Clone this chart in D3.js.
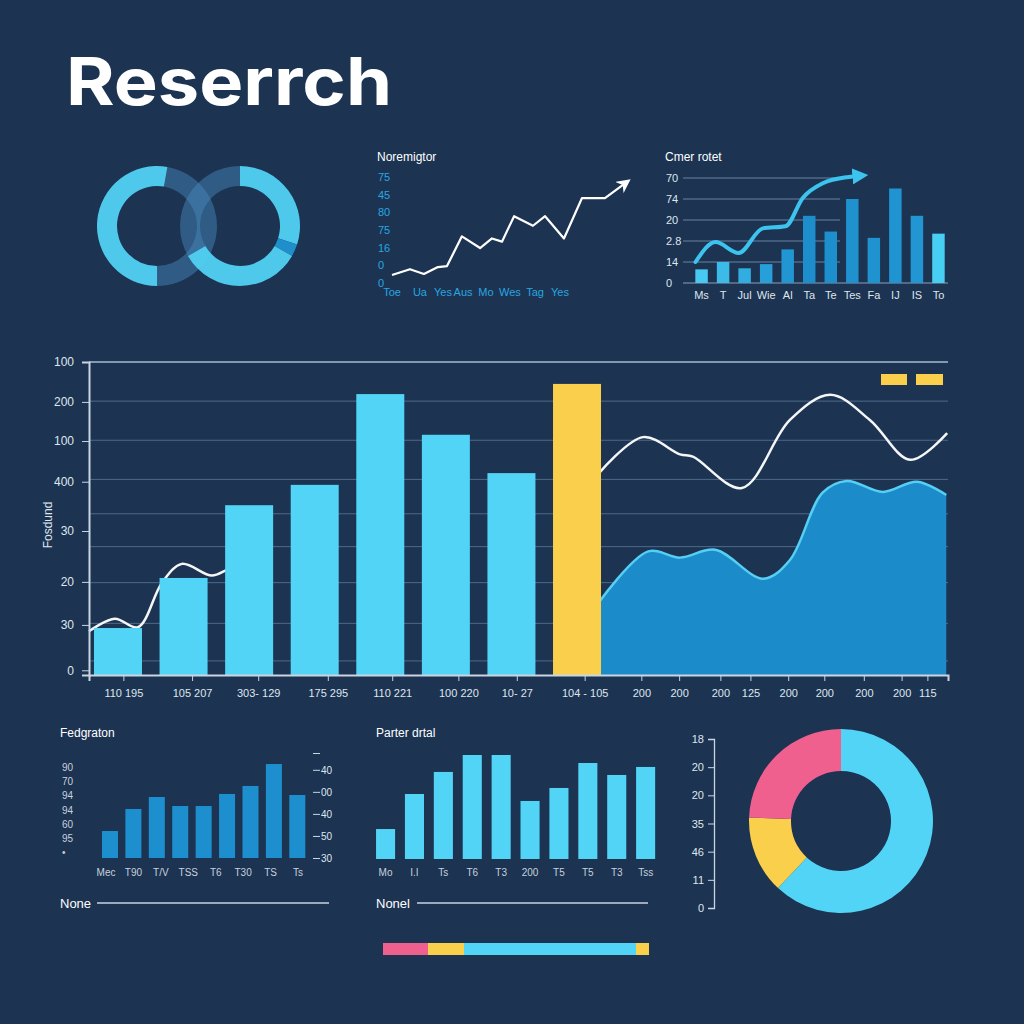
<!DOCTYPE html>
<html>
<head>
<meta charset="utf-8">
<style>
    body { margin: 0; background: #1c3352; }
    svg { display: block; font-family: 'Liberation Sans', Arial, sans-serif; }
    .tick text { fill: #dfe6ee; }
    .tick line { stroke: #c9d5e2; }
</style>
</head>
<body>
<svg width="1024" height="1024"></svg>

<script src="https://d3js.org/d3.v7.min.js"></script>
<script>
    // ---- data ----
    const title = "Reserrch";

    // rings at top left (percent of a full turn)
    const ringLeft = [47.2, 52.8];
    const ringLeftKind = ["dark", "light"];
    const ringRight = [30, 3.3, 33.4, 33.3];
    const ringRightKind = ["light", "accent", "light", "dark"];

    // small line chart "Noremigtor"
    const trendX = [0, 7.7, 13.7, 19.7, 23.6, 30, 37.8, 42.9, 47.2, 52.4, 60.5, 65.7, 73.8, 81.5, 91.4, 100];
    const trendY = [7.5, 13, 8.5, 15, 16, 44, 33, 42, 39, 63, 54, 63, 42, 80, 80, 94];
    const trendTicks = ["0", "0", "16", "75", "80", "45", "75"];
    const trendLabels = ["Toe", "Ua", "Yes", "Aus", "Mo", "Wes", "Tag", "Yes"];
    const trendLabelX = [0, 12, 21.9, 30.5, 40.3, 50.6, 61.4, 72.1];

    // small bar chart "Cmer rotet"
    const colLabels = ["Ms", "T", "Jul", "Wie", "Al", "Ta", "Te", "Tes", "Fa", "IJ", "IS", "To"];
    const colValues = [13, 20, 14, 18, 32, 64, 49, 80, 43, 90, 64, 47];
    const colTicks = ["0", "14", "2.8", "20", "74", "70"];
    const colArrowX = [-0.28, 0.65, 1.72, 2.84, 3.9, 4.7, 5.63, 6.84, 7.3];
    const colArrowY = [20, 39, 28.6, 52, 54, 81, 95, 101, 102];

    // main chart
    const mainBars = [60, 124, 217, 243, 359, 307, 258, 372];
    const mainHighlight = 7;
    const lineAX = [0, 3.0, 5.7, 8.5, 10.8, 14.3, 16.2, 17.6];
    const lineAY = [56, 72, 61, 118, 142, 127, 135, 139];
    const lineBX = [59.3, 64.5, 68.8, 70.3, 76.0, 81.6, 86.3, 90.9, 95.6, 99.9];
    const lineBY = [257, 304, 282, 279, 239, 326, 358, 326, 275, 309];
    const areaX = [59.3, 65.1, 68.8, 72.9, 78.5, 81.6, 85.4, 88.2, 92.4, 96.4, 99.8];
    const areaY = [92, 158, 150, 160, 123, 147, 233, 248, 234, 247, 230];
    const mainGrid = [18, 66, 118, 164, 206, 250, 300, 350, 400];
    const mainTickVals = [6, 64, 119, 184, 247, 299, 349, 400];
    const mainTickText = ["0", "30", "20", "30", "400", "100", "200", "100"];
    const mainXLabels = ["110 195", "105 207", "303- 129", "175 295", "110 221", "100 220", "10- 27", "104 - 105",
        "200", "200", "200", "125", "200", "200", "200", "200", "115"];
    const mainXPos = [4.0, 12.0, 19.7, 27.8, 35.3, 43.0, 49.8, 57.7, 64.3, 68.7, 73.5, 77.0, 81.4, 85.6, 90.2, 94.6, 97.6];

    // bottom left "Fedgraton"
    const fedValues = [25.7, 46.7, 58.1, 49.5, 49.5, 61, 68.6, 89.5, 60];
    const fedLabels = ["Mec", "T90", "T/V", "TSS", "T6", "T30", "TS", "Ts"];
    const fedLeftText = ["90", "70", "94", "94", "60", "95", "•"];
    const fedRightVals = [0, 21, 42, 63, 84, 100];
    const fedRightText = ["30", "50", "40", "00", "40", ""];

    // bottom middle "Parter drtal"
    const partValues = [28.8, 62.5, 83.7, 100, 100, 55.8, 68.3, 92.3, 80.8, 88.5];
    const partLabels = ["Mo", "I.I", "Ts", "T6", "T3", "200", "T5", "T5", "T3", "Tss"];

    // donut bottom right
    const donutValues = [62, 13.6, 24.4];
    const donutTicks = ["0", "11", "46", "35", "20", "20", "18"];

    // progress strip
    const stripValues = [45, 36, 172, 13];

    // ---- styles ----
    const cyan = "#52d4f6", yellow = "#f9cf4b", pink = "#f0608f", blue = "#1b8bc9";
    const textCol = "#dfe6ee";

    let svg = d3.select("svg");
    svg.append("rect").attr("width", 1024).attr("height", 1024).attr("fill", "#1c3352");

    let defs = svg.append("defs");
    defs.append("marker").attr("id", "arrowW")
        .attr("viewBox", "0 0 10 10").attr("refX", 5).attr("refY", 5)
        .attr("markerWidth", 14).attr("markerHeight", 14)
        .attr("markerUnits", "userSpaceOnUse").attr("orient", "auto")
        .append("path").attr("d", "M0,0 L10,5 L0,10 L3,5 z").attr("fill", "#fff");
    defs.append("marker").attr("id", "arrowC")
        .attr("viewBox", "0 0 10 10").attr("refX", 4).attr("refY", 5)
        .attr("markerWidth", 16).attr("markerHeight", 16)
        .attr("markerUnits", "userSpaceOnUse").attr("orient", "auto")
        .append("path").attr("d", "M0,0 L10,5 L0,10 z").attr("fill", "#3cc4ee");

    // title
    svg.append("text").text(title)
        .attr("x", 66).attr("y", 105)
        .attr("fill", "#fff")
        .attr("font-family", "Inter, 'Open Sans', sans-serif")
        .attr("font-weight", 700)
        .attr("font-size", "66px")
        .attr("textLength", 326)
        .attr("lengthAdjust", "spacingAndGlyphs");

    // ---- rings ----
    let ringColor = d3.scaleOrdinal().domain(["light", "accent", "dark"]).range([cyan, "#1e8fca", "#4a8bc0"]);
    let ringOpacity = d3.scaleOrdinal().domain(["light", "accent", "dark"]).range([0.93, 1, 0.45]);
    let ringArc = d3.arc().innerRadius(40).outerRadius(60);
    let deg = Math.PI / 180;

    let pieL = d3.pie().sort(null).startAngle(10 * deg).endAngle(370 * deg)(ringLeft);
    svg.append("g").attr("transform", "translate(157,226)")
        .selectAll("path").data(pieL).join("path")
        .attr("d", ringArc)
        .attr("fill", (d, i) => ringColor(ringLeftKind[i]))
        .attr("opacity", (d, i) => ringOpacity(ringLeftKind[i]));

    let pieR = d3.pie().sort(null).startAngle(0).endAngle(360 * deg)(ringRight);
    svg.append("g").attr("transform", "translate(240,226)")
        .selectAll("path").data(pieR).join("path")
        .attr("d", ringArc)
        .attr("fill", (d, i) => ringColor(ringRightKind[i]))
        .attr("opacity", (d, i) => ringOpacity(ringRightKind[i]));

    // ---- Noremigtor line chart ----
    let tx = d3.scaleLinear().domain([0, 100]).range([392, 625]);
    let ty = d3.scaleLinear().domain([0, 100]).range([283, 177]);

    svg.append("text").text("Noremigtor")
        .attr("x", 377).attr("y", 161)
        .attr("fill", "#fff").attr("font-size", "12px");

    svg.append("g").selectAll("text").data(trendTicks).join("text")
        .text(d => d)
        .attr("x", 378)
        .attr("y", (d, i) => ty(i * 100 / (trendTicks.length - 1)) + 4)
        .attr("fill", "#2aa6e0").attr("font-size", "11px");

    svg.append("g").selectAll("text").data(trendLabels).join("text")
        .text(d => d)
        .attr("x", (d, i) => tx(trendLabelX[i]))
        .attr("y", 296)
        .attr("text-anchor", "middle")
        .attr("fill", "#2aa6e0").attr("font-size", "11px");

    let trendLine = d3.line().x((d, i) => tx(trendX[i])).y(d => ty(d));
    svg.append("path").attr("d", trendLine(trendY))
        .attr("fill", "none").attr("stroke", "#fff").attr("stroke-width", 2.2)
        .attr("stroke-linejoin", "round")
        .attr("marker-end", "url(#arrowW)");

    // ---- Cmer rotet bar chart ----
    let cx = d3.scaleBand().domain(d3.range(colValues.length)).range([691, 949])
        .paddingInner(0.42).paddingOuter(0.2);
    let cy = d3.scaleLinear().domain([0, 100]).range([283, 178]);
    let cIdx = d3.scaleLinear().domain([0, 1]).range([cx(0) + cx.bandwidth() / 2, cx(1) + cx.bandwidth() / 2]);
    let colColor = d3.scaleLinear().domain([0, 3, 5, 10, 11]).range(["#47c9f1", "#279fd8", "#1d8dcc", "#2196d2", "#48cdf3"]);

    svg.append("text").text("Cmer rotet")
        .attr("x", 665).attr("y", 161)
        .attr("fill", "#fff").attr("font-size", "12px");

    svg.append("g").selectAll("line").data(colTicks.slice(1)).join("line")
        .attr("x1", 683).attr("x2", 840)
        .attr("y1", (d, i) => cy((i + 1) * 20)).attr("y2", (d, i) => cy((i + 1) * 20))
        .attr("stroke", "#6a84a2").attr("stroke-width", 1);

    svg.append("line").attr("x1", 683).attr("x2", 948).attr("y1", cy(0)).attr("y2", cy(0))
        .attr("stroke", "#8aa0b8").attr("stroke-width", 1);

    svg.append("g").selectAll("text").data(colTicks).join("text")
        .text(d => d)
        .attr("x", 666)
        .attr("y", (d, i) => cy(i * 20) + 4)
        .attr("fill", textCol).attr("font-size", "11px");

    svg.append("g").selectAll("rect").data(colValues).join("rect")
        .attr("x", (d, i) => cx(i))
        .attr("y", d => cy(d))
        .attr("width", cx.bandwidth())
        .attr("height", d => cy(0) - cy(d))
        .attr("fill", (d, i) => colColor(i));

    svg.append("g").selectAll("text").data(colLabels).join("text")
        .text(d => d)
        .attr("x", (d, i) => cx(i) + cx.bandwidth() / 2)
        .attr("y", 299)
        .attr("text-anchor", "middle")
        .attr("fill", textCol).attr("font-size", "11px");

    let colArrow = d3.line().x((d, i) => cIdx(colArrowX[i])).y(d => cy(d)).curve(d3.curveMonotoneX);
    svg.append("path").attr("d", colArrow(colArrowY))
        .attr("fill", "none").attr("stroke", "#3cc4ee").attr("stroke-width", 4)
        .attr("stroke-linecap", "round")
        .attr("marker-end", "url(#arrowC)");

    // ---- main chart ----
    let xBand = d3.scaleBand().domain(d3.range(mainBars.length)).range([89, 606])
        .paddingInner(0.268).paddingOuter(0.076);
    let xLin = d3.scaleLinear().domain([0, 100]).range([89, 948]);
    let yMain = d3.scaleLinear().domain([0, 400]).range([675, 362]);

    svg.append("g").selectAll("line").data(mainGrid).join("line")
        .attr("x1", 89).attr("x2", 948)
        .attr("y1", d => yMain(d)).attr("y2", d => yMain(d))
        .attr("stroke", d => d === 400 ? "#a9bbd0" : "#4f6a8a")
        .attr("stroke-width", d => d === 400 ? 1.6 : 1);

    let area = d3.area()
        .x((d, i) => xLin(areaX[i]))
        .y0(yMain(0))
        .y1(d => yMain(d))
        .curve(d3.curveCatmullRom);
    svg.append("path").attr("d", area(areaY)).attr("fill", blue);

    let areaLine = d3.line().x((d, i) => xLin(areaX[i])).y(d => yMain(d)).curve(d3.curveCatmullRom);
    svg.append("path").attr("d", areaLine(areaY))
        .attr("fill", "none").attr("stroke", "#55cff3").attr("stroke-width", 2.5);

    let lineA = d3.line().x((d, i) => xLin(lineAX[i])).y(d => yMain(d)).curve(d3.curveCatmullRom);
    let lineB = d3.line().x((d, i) => xLin(lineBX[i])).y(d => yMain(d)).curve(d3.curveCatmullRom);
    svg.append("path").attr("d", lineA(lineAY))
        .attr("fill", "none").attr("stroke", "#f4f6f8").attr("stroke-width", 2.5);
    svg.append("path").attr("d", lineB(lineBY))
        .attr("fill", "none").attr("stroke", "#f4f6f8").attr("stroke-width", 2.5);

    svg.append("g").selectAll("rect").data(mainBars).join("rect")
        .attr("x", (d, i) => xBand(i))
        .attr("y", d => yMain(d))
        .attr("width", xBand.bandwidth())
        .attr("height", d => yMain(0) - yMain(d))
        .attr("fill", (d, i) => i === mainHighlight ? yellow : cyan);

    // legend swatches
    svg.append("rect").attr("x", 881).attr("y", 374).attr("width", 26).attr("height", 11).attr("fill", yellow);
    svg.append("rect").attr("x", 916).attr("y", 374).attr("width", 27).attr("height", 11).attr("fill", yellow);

    let yAxisMain = svg.append("g")
        .attr("transform", "translate(89,0)")
        .call(d3.axisLeft(yMain).tickValues(mainTickVals).tickSize(7).tickPadding(8)
            .tickFormat((d, i) => mainTickText[i]));
    yAxisMain.select(".domain").attr("stroke", "#c9d5e2").attr("stroke-width", 2);
    yAxisMain.selectAll(".tick text").attr("font-size", "12px").attr("fill", textCol)
        .attr("font-family", "'Liberation Sans', Arial, sans-serif");

    let xAxisMain = svg.append("g")
        .attr("transform", "translate(0,675)")
        .call(d3.axisBottom(xLin).tickValues(mainXPos).tickSize(6).tickPadding(8)
            .tickFormat((d, i) => mainXLabels[i]));
    xAxisMain.select(".domain").attr("stroke", "#c9d5e2").attr("stroke-width", 2);
    xAxisMain.selectAll(".tick text").attr("font-size", "11px").attr("fill", textCol)
        .attr("font-family", "'Liberation Sans', Arial, sans-serif");

    svg.append("text").text("Fosdund")
        .attr("transform", "translate(52,525) rotate(-90)")
        .attr("text-anchor", "middle")
        .attr("fill", textCol).attr("font-size", "12px");

    // ---- Fedgraton ----
    let fx = d3.scaleBand().domain(d3.range(fedValues.length)).range([97.3, 310])
        .paddingInner(0.316).paddingOuter(0.2);
    let fy = d3.scaleLinear().domain([0, 100]).range([858, 753]);

    svg.append("text").text("Fedgraton")
        .attr("x", 60).attr("y", 737)
        .attr("fill", "#fff").attr("font-size", "12px");

    svg.append("g").selectAll("rect").data(fedValues).join("rect")
        .attr("x", (d, i) => fx(i))
        .attr("y", d => fy(d))
        .attr("width", fx.bandwidth())
        .attr("height", d => fy(0) - fy(d))
        .attr("fill", "#1e8fce");

    let fedLeftY = d3.scalePoint().domain(d3.range(fedLeftText.length)).range([767, 852]);
    svg.append("g").selectAll("text").data(fedLeftText).join("text")
        .text(d => d)
        .attr("x", 62).attr("y", (d, i) => fedLeftY(i) + 4)
        .attr("fill", "#c6d2df").attr("font-size", "10px");

    let fedLabX = d3.scalePoint().domain(d3.range(fedLabels.length)).range([106, 298]);
    svg.append("g").selectAll("text").data(fedLabels).join("text")
        .text(d => d)
        .attr("x", (d, i) => fedLabX(i)).attr("y", 876)
        .attr("text-anchor", "middle")
        .attr("fill", "#c6d2df").attr("font-size", "10px");

    let fedRight = svg.append("g")
        .attr("transform", "translate(313,0)")
        .call(d3.axisRight(fy).tickValues(fedRightVals).tickSize(7).tickPadding(1)
            .tickFormat((d, i) => fedRightText[i]));
    fedRight.select(".domain").remove();
    fedRight.selectAll(".tick text").attr("font-size", "10px").attr("fill", "#c6d2df")
        .attr("font-family", "'Liberation Sans', Arial, sans-serif");
    fedRight.selectAll(".tick line").attr("stroke", "#c6d2df");

    svg.append("text").text("None")
        .attr("x", 60).attr("y", 908)
        .attr("fill", "#fff").attr("font-size", "13px");
    svg.append("line").attr("x1", 97).attr("x2", 329).attr("y1", 903).attr("y2", 903)
        .attr("stroke", "#c9d5e2").attr("stroke-width", 1.3);

    // ---- Parter drtal ----
    let px = d3.scaleBand().domain(d3.range(partValues.length)).range([371.7, 659.5])
        .paddingInner(0.34).paddingOuter(0.15);
    let py = d3.scaleLinear().domain([0, 100]).range([859, 755]);

    svg.append("text").text("Parter drtal")
        .attr("x", 376).attr("y", 737)
        .attr("fill", "#fff").attr("font-size", "12px");

    svg.append("g").selectAll("rect").data(partValues).join("rect")
        .attr("x", (d, i) => px(i))
        .attr("y", d => py(d))
        .attr("width", px.bandwidth())
        .attr("height", d => py(0) - py(d))
        .attr("fill", cyan);

    svg.append("g").selectAll("text").data(partLabels).join("text")
        .text(d => d)
        .attr("x", (d, i) => px(i) + px.bandwidth() / 2).attr("y", 876)
        .attr("text-anchor", "middle")
        .attr("fill", "#c6d2df").attr("font-size", "10px");

    svg.append("text").text("Nonel")
        .attr("x", 376).attr("y", 908)
        .attr("fill", "#fff").attr("font-size", "13px");
    svg.append("line").attr("x1", 417).attr("x2", 648).attr("y1", 903).attr("y2", 903)
        .attr("stroke", "#c9d5e2").attr("stroke-width", 1.3);

    // ---- donut ----
    let dy = d3.scaleLinear().domain([0, donutTicks.length - 1]).range([908, 739]);
    let donutAxis = svg.append("g")
        .attr("transform", "translate(714,0)")
        .call(d3.axisLeft(dy).tickValues(d3.range(donutTicks.length)).tickSize(6).tickPadding(4)
            .tickFormat((d, i) => donutTicks[i]));
    donutAxis.select(".domain").attr("stroke", "#c9d5e2").attr("stroke-width", 1.3);
    donutAxis.selectAll(".tick text").attr("font-size", "11px").attr("fill", textCol)
        .attr("font-family", "'Liberation Sans', Arial, sans-serif");

    let donutArc = d3.arc().innerRadius(50).outerRadius(92);
    let donutPie = d3.pie().sort(null)(donutValues);
    let donutColors = [cyan, yellow, pink];
    svg.append("g").attr("transform", "translate(841,821)")
        .selectAll("path").data(donutPie).join("path")
        .attr("d", donutArc)
        .attr("fill", (d, i) => donutColors[i]);

    // ---- strip ----
    let sx = d3.scaleLinear().domain([0, d3.sum(stripValues)]).range([383, 649]);
    let stripStart = d3.cumsum([0].concat(stripValues));
    let stripColors = [pink, yellow, cyan, yellow];
    svg.append("g").selectAll("rect").data(stripValues).join("rect")
        .attr("x", (d, i) => sx(stripStart[i]))
        .attr("y", 943)
        .attr("width", d => sx(d) - sx(0))
        .attr("height", 12)
        .attr("fill", (d, i) => stripColors[i]);
</script>
</body>
</html>
